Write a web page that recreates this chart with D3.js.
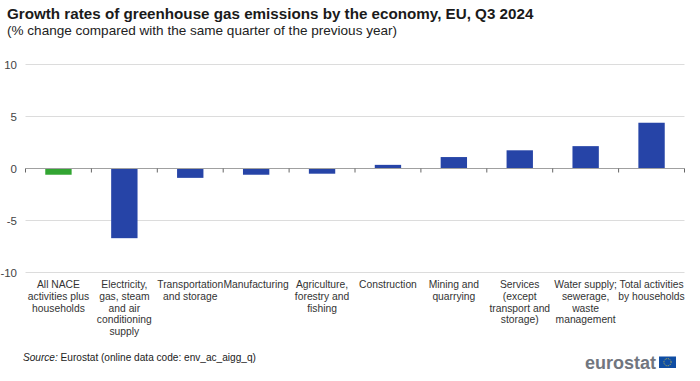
<!DOCTYPE html>
<html>
<head>
<meta charset="utf-8">
<script src="https://cdn.jsdelivr.net/npm/d3@7"></script>
<style>
  html, body { margin: 0; padding: 0; background: #fff; }
  svg { display: block; }
  text { font-family: "Liberation Sans", Arial, sans-serif; }
</style>
</head>
<body>
<div id="chart"></div>
<script>
const categories = ["All NACE activities plus households", "Electricity, gas, steam and air conditioning supply", "Transportation and storage", "Manufacturing", "Agriculture, forestry and fishing", "Construction", "Mining and quarrying", "Services (except transport and storage)", "Water supply; sewerage, waste management", "Total activities by households"];
const categoryLines = [
  ["All NACE", "activities plus", "households"],
  ["Electricity,", "gas, steam", "and air", "conditioning", "supply"],
  ["Transportation", "and storage"],
  ["Manufacturing"],
  ["Agriculture,", "forestry and", "fishing"],
  ["Construction"],
  ["Mining and", "quarrying"],
  ["Services", "(except", "transport and", "storage)"],
  ["Water supply;", "sewerage,", "waste", "management"],
  ["Total activities", "by households"]
];
const values = [-0.6, -6.7, -0.9, -0.6, -0.5, 0.35, 1.1, 1.75, 2.15, 4.4];
const yTicks = [-10, -5, 0, 5, 10];

const width = 700, height = 381;
const svg = d3.select("#chart").append("svg").attr("width", width).attr("height", height);

//scales
const x = d3.scaleBand().domain(categories).range([25.5, 684.5]).paddingInner(0.6).paddingOuter(0.3);
const y = d3.scaleLinear().domain([-10, 10]).range([272.5, 64.5]);
const step = x.step();

//titles
svg.append("text").attr("x", 7).attr("y", 19).attr("font-size", 15.2).attr("font-weight", "bold").attr("fill", "#1a1a1a")
  .text("Growth rates of greenhouse gas emissions by the economy, EU, Q3 2024");
svg.append("text").attr("x", 7).attr("y", 35).attr("font-size", 13.55).attr("fill", "#222")
  .text("(% change compared with the same quarter of the previous year)");

//gridlines
svg.append("g").selectAll("line")
  .data(yTicks.filter(d => d !== 0))
  .join("line")
  .attr("x1", 25.5).attr("x2", 684.5)
  .attr("y1", d => y(d)).attr("y2", d => y(d))
  .attr("stroke", "#dcdcdc").attr("stroke-width", 1);

//y labels
svg.append("g").selectAll("text")
  .data(yTicks)
  .join("text")
  .attr("x", 17).attr("y", d => y(d) + 4)
  .attr("text-anchor", "end")
  .attr("font-size", 11.5).attr("fill", "#444")
  .text(d => d);

//bars
svg.append("g").selectAll("rect")
  .data(values)
  .join("rect")
  .attr("x", (d, i) => x(categories[i]))
  .attr("width", x.bandwidth())
  .attr("y", d => y(Math.max(d, 0)))
  .attr("height", d => Math.abs(y(d) - y(0)))
  .attr("fill", (d, i) => i === 0 ? "#32a532" : "#2644a7");

//zero axis with ticks
svg.append("line").attr("x1", 25.5).attr("x2", 684.5).attr("y1", y(0)).attr("y2", y(0))
  .attr("stroke", "#a0a0a0").attr("stroke-width", 1.2);
svg.append("g").selectAll("line")
  .data(d3.range(categories.length + 1))
  .join("line")
  .attr("x1", i => 25.5 + i * step).attr("x2", i => 25.5 + i * step)
  .attr("y1", y(0)).attr("y2", y(0) + 4)
  .attr("stroke", "#666").attr("stroke-width", 1);

//category labels, wrapped by hand as in the picture
const labels = svg.append("g").selectAll("text")
  .data(categoryLines)
  .join("text")
  .attr("font-size", 10.3).attr("fill", "#333").attr("text-anchor", "middle");
labels.selectAll("tspan")
  .data((d, i) => d.map((line, j) => ({line, j, i})))
  .join("tspan")
  .attr("x", d => x(categories[d.i]) + x.bandwidth() / 2)
  .attr("y", d => 288 + d.j * 11.75)
  .text(d => d.line);

//source
const source = svg.append("text").attr("x", 23).attr("y", 361).attr("font-size", 10.1).attr("fill", "#222");
source.append("tspan").attr("font-style", "italic").text("Source:");
source.append("tspan").text(" Eurostat (online data code: env_ac_aigg_q)");

//logo
svg.append("text").attr("x", 585).attr("y", 369).attr("font-size", 18).attr("font-weight", "bold").attr("fill", "#71767f").text("eurostat");
svg.append("rect").attr("x", 659).attr("y", 356.5).attr("width", 17).attr("height", 11.5).attr("fill", "#0f4da3");
svg.append("circle").attr("cx", 667.5).attr("cy", 362.2).attr("r", 3.6).attr("fill", "none")
  .attr("stroke", "#e0c93a").attr("stroke-width", 0.8).attr("stroke-dasharray", "1 0.9");
</script>
</body>
</html>
